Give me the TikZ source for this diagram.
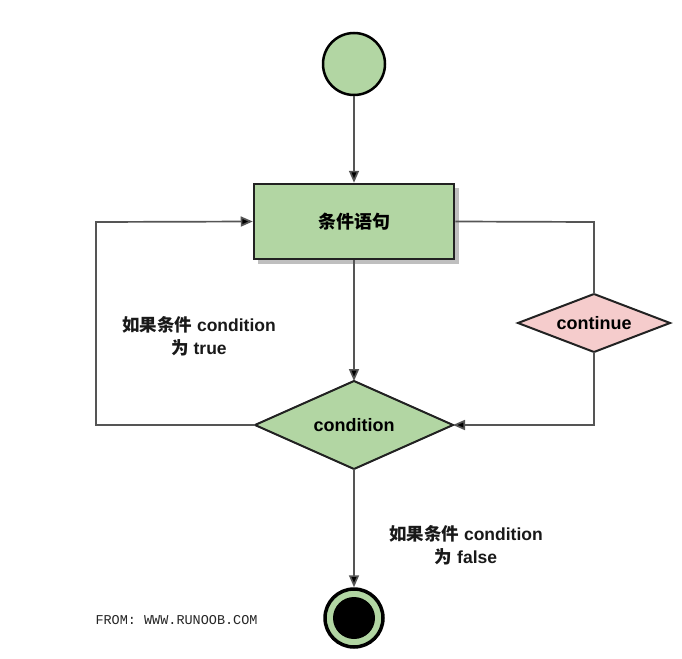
\documentclass[tikz,border=0pt]{standalone}
\usepackage{fontspec}
\setmainfont{Liberation Sans}
\newfontfamily\cjk{Noto Sans CJK SC}
\newfontfamily\monofont{Liberation Mono}
\usetikzlibrary{arrows.meta,shapes.geometric}
\definecolor{boxgreen}{HTML}{B2D6A3}
\definecolor{boxpink}{HTML}{F5CCCC}
\definecolor{edgegray}{HTML}{555555}
\definecolor{shapeborder}{HTML}{222222}
\begin{document}
\begin{tikzpicture}[x=1pt,y=-1pt,
  flowline/.style={draw=edgegray,line width=1.7pt},
  arrowed/.style={flowline,-{Triangle[length=12pt,width=10pt,fill=black]}},
  labeltext/.style={font=\fontsize{17.5}{23}\selectfont\bfseries,align=center,text=black!90},
  decision/.style={diamond,draw=shapeborder,line width=2pt,inner sep=0pt,outer sep=0pt,
                   font=\fontsize{18}{18}\selectfont\bfseries}]
\useasboundingbox[fill=white] (0,0) rectangle (682,658);

% start node
\node[circle,draw=black,line width=2.5pt,fill=boxgreen,minimum size=62pt,inner sep=0pt] (start) at (354,64) {};

% statement block with drop shadow
\fill[black!25] (258,188) rectangle (459,264);
\node[draw=shapeborder,line width=2.5pt,fill=boxgreen,minimum width=200pt,minimum height=75pt,inner sep=0pt,
      font=\fontsize{18}{18}\selectfont\cjk\bfseries] (stmt) at (354,221.5) {条件语句};

% condition diamond
\node[decision,fill=boxgreen,shape aspect=2.25,minimum width=198pt,minimum height=88pt] (cond) at (354,425) {condition};

% continue diamond
\node[decision,fill=boxpink,shape aspect=2.62,minimum width=152pt,minimum height=58pt] (cont) at (594,323) {continue};

% end node: black ring, green ring, black core
\node[circle,draw=black,line width=3.5pt,fill=boxgreen,minimum size=58pt,inner sep=0pt] (stop) at (354,618) {};
\node[circle,fill=black,minimum size=42pt,inner sep=0pt] (stopcore) at (stop.center) {};

% corner points of the loops
\coordinate (ltop) at (96,222);
\coordinate (lbot) at (96,425);
\coordinate (rtop) at (594,222);
\coordinate (rbot) at (594,425);

% connectors
\draw[arrowed] (start.south) -- (stmt.north);
\draw[arrowed] (stmt.south) -- (cond.north);
\draw[arrowed] (cond.west) -- (lbot) -- (ltop) -- (stmt.west);
\draw[flowline] (stmt.east) -- (rtop) -- (cont.north);
\draw[arrowed] (cont.south) -- (rbot) -- (cond.east);
\draw[arrowed] (cond.south) -- (stop.north);

% branch labels
\node[labeltext] (truelbl) at (199,336) {{\cjk 如果条件} condition\\{\cjk 为} true};
\node[labeltext] (falselbl) at (466,545) {{\cjk 如果条件} condition\\{\cjk 为} false};

% source note
\node[anchor=west,font=\fontsize{13.5}{13.5}\selectfont\monofont,text=black!85] (src) at (92,620) {FROM: WWW.RUNOOB.COM};
\end{tikzpicture}
\end{document}
